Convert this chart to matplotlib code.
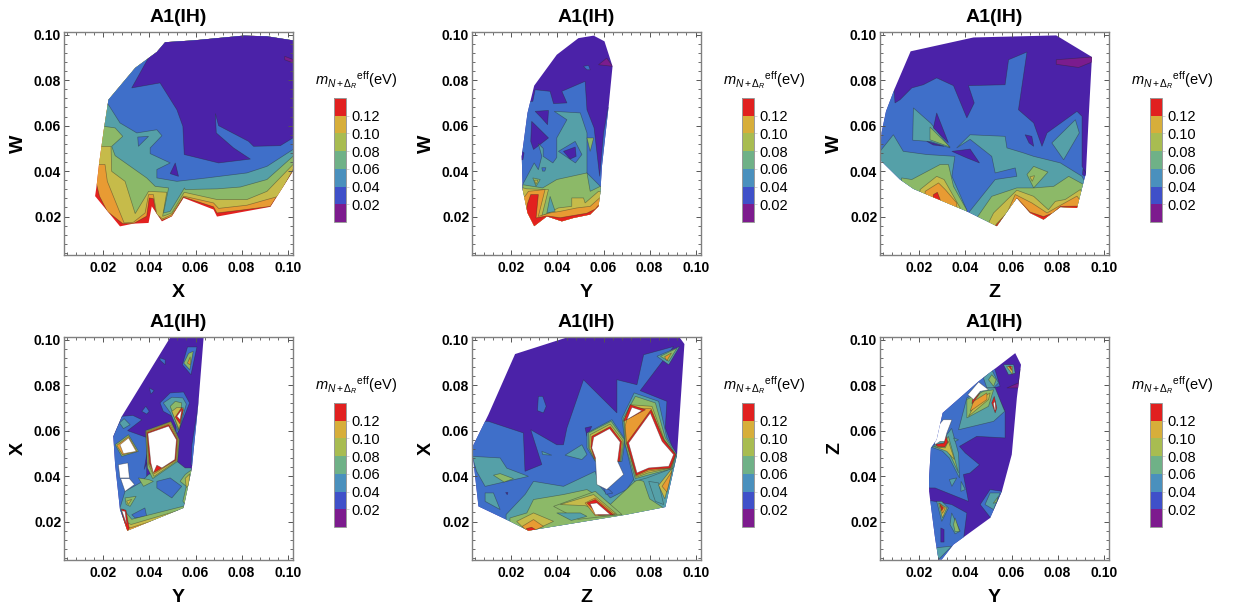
import matplotlib
matplotlib.use("Agg")
import matplotlib.pyplot as plt
from matplotlib.cm import ScalarMappable
from matplotlib.colors import BoundaryNorm, ListedColormap
from matplotlib.patches import Polygon
from matplotlib.ticker import FixedLocator

plt.rcParams["font.family"] = ["Liberation Sans", "DejaVu Sans"]
plt.rcParams["mathtext.fontset"] = "custom"
plt.rcParams["mathtext.rm"] = "Liberation Sans"
plt.rcParams["mathtext.it"] = "Liberation Sans:italic"
plt.rcParams["mathtext.bf"] = "Liberation Sans:bold"

# Band colours in the maps
P, V, B, T, G, Y, O, R, W = "#7B1C8E", "#4B22A8", "#3F6FC9", "#55A0A8", "#8CB968", "#C6BB4A", "#E89B33", "#E3211F", "#FFFFFF"

# Legend
cbar_levels = [0.0, 0.02, 0.04, 0.06, 0.08, 0.10, 0.12, 0.14]
cbar_colors = ["#7D1B8E", "#3F50C9", "#4A90BD", "#6FB187", "#A8BC51", "#D7AE3A", "#E1201F"]
cbar_ticks = [0.02, 0.04, 0.06, 0.08, 0.10, 0.12]
axis_ticks = [0.02, 0.04, 0.06, 0.08, 0.10]
minor_ticks = [0.004 * i for i in range(1, 26) if i % 5 != 0]

wx_hull = [(16.4, 29), (17.1, 34), (18.1, 43), (20.3, 59), (22.2, 71.4), (33.8, 85.4), (43.2, 92.4), (46.8, 96.7), (59.1, 97.5), (80.9, 99.6), (91, 99.3), (102.3, 97.5), (102.3, 40), (92.5, 24.3), (69.3, 20), (67.8, 23.1), (54.8, 28.2), (49.7, 20.1), (45.4, 17.9), (41, 24.5), (39.6, 17.2), (33, 16.9), (27.2, 15.7)]
wx_layers = [
    (O, [(0, 34), (17.1, 34), (18.3, 29), (21.7, 22.3), (28.4, 16.9), (33, 16.9), (38.8, 20.2), (39.9, 28.2), (41.7, 27.9), (42.8, 21.6), (45.4, 18.4), (49.7, 20.1), (54.8, 28.6), (67.8, 24.3), (69.3, 21.6), (79.4, 22.8), (92.5, 24.5), (102.3, 40), (120, 40), (120, 120), (0, 120)]),
    (Y, [(0, 43), (18.3, 42.9), (20.7, 42.9), (21.7, 35.5), (29, 17.2), (33, 17.5), (38.1, 21.6), (39.6, 29.7), (41.7, 29.7), (43.2, 20.9), (45.7, 19), (49.7, 20.9), (54.8, 29), (67.8, 26), (70, 23.6), (82.3, 25), (91, 27.5), (96, 28.9), (102.3, 40.7), (120, 40.7), (120, 120), (0, 120)]),
    (G, [(0, 50.9), (23.3, 50.9), (23.6, 39.9), (29.4, 35.5), (33.8, 21.3), (38.8, 29.7), (39.6, 31.1), (47.5, 30.7), (45.7, 20.1), (49.7, 21.6), (55.1, 30.7), (69.3, 27.5), (82.3, 27.5), (91, 31.1), (102.3, 42.9), (120, 42.9), (120, 120), (0, 120)]),
    (T, [(0, 59.7), (20.3, 59.7), (25.1, 59), (28.4, 55.3), (23.6, 50.9), (25.1, 46.8), (38.8, 37), (42.5, 33.3), (48.3, 32.6), (46.1, 21.6), (49, 22.3), (55.2, 32.6), (55.5, 31.9), (69.3, 32.2), (79.4, 33), (91, 36.3), (102.3, 46.5), (120, 46.5), (120, 120), (0, 120)]),
    (B, [(0, 69.2), (22.2, 69.2), (27.2, 61.2), (34.5, 56.8), (43.2, 58.2), (45.4, 55.6), (40.3, 50.2), (40.3, 47.7), (49, 43.6), (43.2, 40.7), (43.2, 37), (51.9, 35.5), (64.9, 37), (82.3, 39.2), (91, 42.1), (102.3, 49.5), (120, 49.5), (120, 120), (0, 120)]),
    (B, [(35.2, 50.9), (39.6, 55.3), (34.9, 55)]),
    (V, [(40.3, 120), (40.3, 91.2), (32.3, 76.6), (44.6, 78.8), (51.9, 67), (54.5, 59.7), (55.1, 47.3), (70, 43.6), (83.8, 45.3), (76.5, 50.2), (69, 56.8), (68.6, 65.3), (70, 60), (83, 53.1), (85.2, 50.9), (96.8, 51.2), (102.3, 54.6), (120, 54.6), (120, 120)]),
    (V, [(51.2, 43.6), (52.6, 37.7), (49, 38.9)]),
    (P, [(98.7, 90.5), (102.3, 89.1), (102.3, 87.6), (98.7, 89)]),
]

wy_hull = [(29.9, 15.8), (27, 21.6), (24.9, 31.9), (24.5, 46.5), (27, 65.6), (29.9, 77.6), (39.7, 91.2), (49.1, 98.5), (55.7, 99.6), (60.4, 97.1), (63.9, 86.1), (62.2, 68.5), (59.3, 42.1), (58.6, 30.4), (57.8, 24.5), (54.2, 20.9), (47, 19.4), (41.9, 17.9), (35.4, 20.1)]
wy_layers = [
    (B, [(29.3, 70.7), (30.3, 75.8), (36.8, 75.1), (38.3, 69.7), (44.1, 70), (41.9, 75.1), (52, 79.5), (52.8, 67), (55.9, 59), (58.3, 37.7), (60, 56.8), (62, 68), (70, 68), (70, 30), (20, 30), (20, 70.7)]),
    (V, [(30.3, 66.3), (36.1, 66.7), (35.7, 60.4), (33, 63.5)]),
    (V, [(28.8, 61.9), (36.1, 54.6), (29.6, 49.5), (28.4, 53.1)]),
    (V, [(24, 49), (25.5, 48), (25, 45), (24, 45)]),
    (B, [(51.3, 86.1), (53.5, 86.5), (54.2, 84.6), (52.8, 84.6)]),
    (P, [(57.8, 86.8), (61.4, 89.7), (63.9, 86.1)]),
    (T, [(24.9, 34.1), (29.9, 43.6), (31.7, 40.6), (33.2, 46.5), (31.7, 52.1), (33.8, 50), (33.8, 46.5), (38, 43.6), (39.7, 46), (39.7, 54.6), (44.1, 62.6), (38.6, 66.3), (49.9, 65.6), (52.8, 56.8), (52.8, 39.2), (58.6, 33.3), (60, 25), (24, 25)]),
    (B, [(40.4, 48.7), (47.7, 53.1), (50.6, 47.3), (47.8, 43.6)]),
    (V, [(42.6, 48.7), (47.7, 50.6), (48.1, 46.5), (45.5, 45.3)]),
    (G, [(52.8, 54.6), (55.7, 54.6), (54.2, 48.7)]),
    (B, [(33.2, 41.5), (35, 41.5), (34.5, 40), (33.5, 40)]),
    (G, [(25, 34), (33.6, 32.6), (39.7, 36.3), (52.8, 39.2), (54.2, 31.1), (58.6, 33.3), (60, 33), (60, 10), (24, 10)]),
    (G, [(29.3, 37), (32.5, 36.3), (30.7, 33.3)]),
    (Y, [(30, 36), (31.5, 36), (30.7, 34.2)]),
    (Y, [(24, 32.6), (25.2, 32.6), (26.7, 32.2), (36.1, 31.9), (33.2, 20.2), (40.4, 23.8), (46.2, 24.5), (46.2, 28.2), (51.3, 28.2), (52, 26), (57.8, 31.1), (60, 31), (60, 10), (24, 10)]),
    (T, [(36.8, 28.9), (39, 22.3), (35.4, 21.6)]),
    (O, [(24, 28.9), (25.9, 28.9), (27.4, 31.1), (34.6, 31.9), (31.7, 20.1), (36.8, 21.6), (41.2, 22.3), (48.4, 23.8), (54.2, 24.5), (58.3, 28.2), (60, 28), (60, 10), (24, 10)]),
    (R, [(27, 25.7), (28.4, 29.7), (31.7, 29.7), (30.7, 19.4), (35.4, 20.3), (41.2, 19.5), (47, 20.5), (52.8, 21.5), (56.4, 23.3), (57.8, 25), (60, 25), (60, 10), (24, 10)]),
]

wz_hull = [(2.9, 45), (3.6, 57), (5.5, 66.3), (9.4, 76.6), (16.2, 92.7), (43.5, 98.8), (79.4, 99.7), (94.9, 90.2), (93.5, 64.1), (92.3, 39.2), (90.6, 32.6), (88.4, 23.8), (81.2, 24.2), (73.9, 18.7), (68.1, 21.6), (62.3, 28.2), (53.6, 15.8), (40.6, 22.3), (17.4, 32.2), (11.6, 36.3)]
wz_layers = [
    (B, [(0, 76.6), (9, 76.6), (9.4, 70), (11.6, 71.4), (16.7, 76.6), (21.7, 78), (27.5, 81), (34.8, 77.6), (40.6, 63.4), (43.8, 70), (41.3, 77.6), (57.2, 78), (58.7, 89), (66.7, 92.4), (63, 67), (69.6, 61.2), (73.2, 50.9), (75.4, 56.8), (88.4, 66.3), (90.6, 64.1), (90.6, 42.1), (92.3, 39.2), (100, 30), (100, 10), (0, 10)]),
    (T, [(0, 45), (8.7, 56), (13, 48.7), (23.2, 47.3), (35.4, 46.5), (34.1, 37.7), (40.6, 22.8), (41, 10), (0, 10)]),
    (T, [(36.2, 50.2), (42, 56), (57.2, 55.3), (58, 50.2), (65.2, 48), (69.6, 46.5), (81.2, 43.6), (90.6, 37.7), (92.7, 33.3), (91.3, 12.8), (41.3, 12.8), (41.3, 21.6), (52.9, 36.3), (62.3, 37.7), (61.6, 41.4), (52.9, 39.2), (51.4, 46.5), (42, 54)]),
    (T, [(17.4, 67.8), (25, 61), (33.3, 50.2), (25, 53), (17.1, 53.6)]),
    (G, [(24.6, 59.4), (33.3, 50.6), (24.6, 53.8)]),
    (V, [(27.5, 65.6), (32.6, 52.4), (26.1, 59)]),
    (V, [(23.2, 53.1), (30.7, 50.9), (26, 51.5)]),
    (V, [(34.1, 48.7), (42, 49.7), (46.1, 43.6), (40.6, 45.8)]),
    (V, [(65.9, 56), (68.8, 55.3), (69.6, 50.9), (67.6, 52.4)]),
    (V, [(91, 41), (92.3, 39.2), (92.3, 37.5), (90.8, 38.5)]),
    (T, [(77.5, 52.4), (87.7, 62.6), (89.4, 56.8), (82.6, 45)]),
    (G, [(66.7, 38.5), (69.6, 42.1), (75.8, 39.6), (69.6, 32.6)]),
    (Y, [(68, 37.5), (70, 38), (69, 35.5)]),
    (P, [(79.4, 89), (94.9, 90.2), (94.9, 88), (89.1, 85.6), (79.4, 87)]),
    (G, [(12.3, 37), (16.7, 36.3), (29, 42.9), (32.6, 42.9), (34.8, 33.3), (40.6, 22.8), (40.6, 10), (10, 10)]),
    (Y, [(20.3, 31.9), (27.5, 37.7), (30.7, 36.3), (37.7, 23.8), (37.7, 10), (20.3, 10)]),
    (O, [(22.5, 31.1), (28.3, 34.8), (31.2, 31.9), (36.2, 26), (36.2, 10), (22.5, 10)]),
    (R, [(26.1, 29.7), (27.8, 30.7), (29, 27.5), (28, 20), (25, 20)]),
    (G, [(44.9, 19.4), (51.4, 28.9), (62.3, 32.6), (69.6, 32.6), (78.3, 33.3), (84.8, 37.7), (91.3, 34.1), (100, 30), (100, 10), (45, 10)]),
    (Y, [(50, 17.2), (52.2, 21.6), (62.3, 31.6), (69.6, 28.9), (76, 23), (79, 26.7), (83.3, 27.5), (89.9, 31.9), (91.3, 29), (100, 28), (100, 10), (50, 10)]),
    (O, [(53.2, 16.5), (58, 21.6), (61.6, 29.7), (68.8, 26), (75.4, 21.6), (80.4, 24.5), (88.4, 29), (89.5, 27.5), (100, 24), (100, 10), (53, 10)]),
    (R, [(53, 15.8), (60, 23.8), (62.3, 28.2), (68, 22), (73.9, 20), (78, 21.6), (81.2, 24.5), (88.4, 24.6), (100, 24), (100, 10), (53, 10)]),
]

xy_hull = [(30.4, 16), (27.2, 25.3), (25.1, 45), (24.3, 57.5), (28, 66.3), (49, 101), (63.5, 101), (61.3, 72.9), (58.4, 43.6), (54.8, 26)]
xy_layers = [
    (B, [(24, 57), (28, 66.3), (32.8, 66.7), (36.7, 64.8), (30.5, 60), (38.8, 57), (38.8, 40), (45, 28), (60, 22), (40, 10), (20, 10)]),
    (B, [(58.1, 45), (58.4, 53.8), (61.7, 74.3), (64, 74), (64, 40)]),
    (V, [(37.7, 42.9), (38.8, 49.5), (39.1, 46.5)]),
    (T, [(29.4, 33.3), (35.9, 37), (39.6, 40.7), (51.9, 46.5), (55.5, 43.6), (58.1, 43.6), (58.4, 42), (54.8, 26), (47.5, 23.1), (30.1, 17), (27.2, 26)]),
    (B, [(43.2, 37.7), (49, 39.2), (54, 35.5), (49.7, 30.4), (43.2, 34.8)]),
    (B, [(32.3, 23), (38, 26), (38.8, 22.3), (33.8, 21.6)]),
    (G, [(53.3, 37.7), (55.5, 40.7), (58.4, 42.9), (58.4, 42), (55.5, 27.5), (54.5, 29), (56, 35.5)]),
    (Y, [(55.5, 39), (57.5, 41), (57, 36), (56, 35)]),
    (G, [(35.2, 39.2), (39.6, 38.5), (41.7, 37.7), (37.4, 35.5)]),
    (G, [(29.4, 30.4), (34.2, 31.1), (31.6, 26.7), (29.9, 27.5)]),
    (Y, [(30.1, 29), (32.3, 29.8), (30.8, 27.5)]),
    (G, [(28.7, 25.3), (32.3, 21), (54.5, 26.7), (57, 27.5), (57, 10), (28, 10)]),
    (Y, [(29.5, 20), (32, 18.7), (55, 25.6), (55, 10), (28, 10)]),
    (O, [(30, 18), (31.5, 17.2), (50, 23), (50, 10), (29, 10)]),
    (R, [(27.8, 25.6), (29.8, 25), (31.2, 17), (30, 15)]),
    (W, [(28, 24.8), (29.4, 24.5), (30.1, 18.7)]),
    (T, [(27, 63.4), (29, 65.3), (31.6, 62.6), (28.7, 60.9)]),
    (B, [(44.6, 92), (46.8, 91.2), (46.8, 89), (44.6, 91)]),
    (B, [(54.3, 89), (56.5, 96.8), (60.6, 96.8), (58, 84.6)]),
    (G, [(54.9, 89.7), (57, 94), (59, 94.9), (57.5, 86.8)]),
    (O, [(56.5, 89.7), (57.7, 92.5), (57.7, 89)]),
    (B, [(40, 78.8), (42, 77.6), (40.6, 76.1)]),
    (B, [(36.7, 68.5), (38.4, 70.7), (39.9, 68.5), (38.8, 67.3)]),
    (B, [(44.6, 72.2), (49, 76.6), (54.8, 77), (57.4, 72.2), (52.3, 59), (51.6, 59), (51.2, 65.6), (46, 68.5)]),
    (T, [(46, 72.2), (49.7, 74.7), (54.5, 74.4), (56, 71.7), (52.6, 59.5), (49, 68)]),
    (G, [(49, 70.7), (51.2, 72.9), (54, 72.2), (52.6, 60.4), (50.4, 67)]),
    (Y, [(49.7, 68.5), (51.9, 70.2), (54.8, 70), (52.9, 60.5)]),
    (R, [(51.2, 66), (54, 70.2), (54.6, 69), (53.2, 63)]),
    (W, [(51.9, 66.3), (54, 69.2), (53.3, 64.8)]),
    (G, [(38.3, 60), (49.3, 64.1), (53, 56), (52.2, 46.5), (41.4, 38.9), (39.1, 43.6)]),
    (Y, [(38.6, 59.7), (49, 63.7), (52.6, 56), (51.9, 46.8), (42, 39.9), (39.6, 45.1)]),
    (O, [(38.8, 59.4), (48.7, 63.1), (52.3, 56), (51.6, 47.1), (42, 41), (39.9, 45.5)]),
    (R, [(39, 59.1), (48.4, 62.6), (52, 56), (51.3, 47.1), (42.2, 41.7), (40.1, 45.6)]),
    (W, [(39.3, 58.8), (48.3, 62), (51.7, 56), (51, 47.3), (45.4, 43.6), (43.2, 44.8), (41.7, 41.4), (40.6, 45.8)]),
    (G, [(25.1, 53.8), (30.9, 58.2), (35.2, 50.9), (28, 48.7)]),
    (O, [(25.8, 53.5), (30.9, 57.4), (34.6, 50.9), (28.3, 49.4)]),
    (W, [(27.2, 53.8), (30.9, 56.8), (34.2, 50.9), (28.7, 49.9)]),
    (W, [(26.5, 45), (30.6, 45.8), (31.3, 39.2), (27.2, 39.2)]),
    (W, [(27.5, 38.9), (31.3, 38.9), (33.5, 36.3), (29.4, 33.3)]),
]

xz_hull = [(5.7, 26.7), (2.9, 52.4), (10, 67), (21.6, 93.7), (44.1, 101), (93, 101), (95.1, 98.1), (91.9, 49.5), (86.8, 26.4), (70.1, 23.1), (27.4, 16), (19.4, 20.1)]
xz_layers = [
    (B, [(0, 64.1), (10, 64.1), (25.2, 59), (25.9, 42.1), (33.2, 45.1), (28.4, 60.4), (39.7, 53.8), (42.6, 53.8), (44.1, 61.2), (51.3, 82.4), (65.8, 67.8), (65.8, 82.4), (74.5, 80.2), (77.4, 93.4), (90.4, 97), (75.9, 77.6), (87.5, 72.9), (86.8, 61.2), (91, 49.5), (95, 45), (95, 15), (0, 15)]),
    (B, [(31.7, 75.1), (33.6, 75.1), (35.1, 70.7), (33.9, 67.8), (31.3, 68.8)]),
    (V, [(52, 61.2), (54.9, 61.9), (52.8, 57.5)]),
    (V, [(17.5, 32.8), (18.5, 32.8), (18.2, 31.8)]),
    (T, [(3, 48.7), (15.1, 48), (18, 43.5), (27.4, 39.9), (8.6, 35.5), (4.9, 42.1)]),
    (G, [(12.2, 40.4), (15.1, 41.1), (20.9, 38.9), (16.8, 37.4)]),
    (T, [(43.3, 49.2), (50.6, 53.8), (52.8, 49.5), (50.6, 47.3)]),
    (T, [(33.2, 50.9), (37.5, 49.2), (33.6, 49.5)]),
    (T, [(8.6, 32.6), (12.2, 32.6), (15.1, 25.3), (8.6, 28.9)]),
    (T, [(17.7, 23.1), (26, 32), (29.6, 37.7), (42.6, 35.5), (56.4, 42.1), (57.8, 36.3), (62.9, 30.4), (70.1, 34.1), (74.5, 40.7), (89, 45.8), (91, 49.5), (95, 45), (95, 10), (17.7, 10)]),
    (B, [(60, 35), (62.5, 34), (64, 32.5), (61, 32)]),
    (G, [(19.4, 21.6), (26.7, 23.8), (29.6, 29.7), (42.6, 31.9), (52.8, 34.1), (62.9, 27.5), (74.5, 38.5), (77.4, 37.7), (80, 30), (86, 26), (90, 10), (19, 10)]),
    (T, [(79.6, 37.7), (83.9, 37), (86.1, 27.5), (82.5, 28.9)]),
    (Y, [(83.9, 36), (89.9, 43.6), (86.6, 30)]),
    (O, [(85.4, 35.5), (89.7, 42.1), (87.5, 33)]),
    (G, [(38.3, 26.7), (56.4, 33.3), (68, 23.1), (49, 21)]),
    (T, [(39.7, 23.8), (49.9, 23.8), (52.8, 22.3), (46, 20.5)]),
    (Y, [(41.2, 27.5), (55.7, 31.9), (65.9, 23.1), (52, 27)]),
    (O, [(52, 28.2), (56.4, 30.4), (65, 23.1), (56.5, 22.5)]),
    (R, [(52.8, 28.2), (56.4, 29.7), (64.3, 23), (57.9, 22.8)]),
    (W, [(54.2, 27.8), (57.1, 28.2), (62.9, 23.1), (56.4, 23.1)]),
    (Y, [(22.3, 20.1), (29.6, 23.8), (38.3, 20.1), (27.4, 15)]),
    (O, [(24.7, 17.9), (29.6, 20.9), (33.9, 17.9), (27.4, 15)]),
    (R, [(26.4, 16.9), (28.8, 17.5), (30.5, 16.5), (27.4, 15)]),
    (T, [(52.8, 59), (63.6, 64.8), (69.4, 56), (68, 46.5), (56.4, 46.5), (52.8, 52.4)]),
    (G, [(53.5, 59), (63.3, 64.1), (69, 56), (67.5, 46.5), (56.4, 46.8), (53.5, 52.4)]),
    (Y, [(54.2, 58.2), (62.9, 62.9), (68.4, 55.6), (67.2, 46.5), (56.1, 47.3), (53.9, 52.4)]),
    (R, [(54.9, 57.5), (62.9, 61.8), (67.8, 55.3), (67, 46.5), (56.1, 47.7), (54.5, 52.7)]),
    (W, [(55.7, 57.1), (62.6, 60.9), (67.2, 55), (66.1, 46.5), (68.7, 40.7), (61.4, 34.1), (57.1, 36.3), (56.5, 48), (54.9, 52.4)]),
    (T, [(68, 65.6), (73.3, 76.6), (83.9, 72.9), (87.5, 56.8), (91.9, 49.5), (90.4, 43.6), (78.8, 39.2), (73.3, 37.7), (69.4, 53.8)]),
    (G, [(68.7, 65.6), (73.8, 75.1), (82.5, 72.2), (86.8, 56.8), (91.4, 49.5), (89.7, 43.3), (79.1, 40.4), (73.8, 38.9), (69.4, 54.1)]),
    (Y, [(69, 64.8), (71.6, 71.4), (81, 70.7), (86.4, 56), (91.3, 49.5), (89.4, 43.6), (79.3, 41.4), (74.1, 39.5), (69.9, 54.6)]),
    (O, [(69.4, 61.9), (71.2, 70), (80.6, 69.7), (86.2, 56), (91.2, 49.5), (89.2, 43.6), (79.4, 42.2), (74.2, 40), (70, 54.6)]),
    (R, [(70.1, 54.6), (80.6, 69.2), (86.1, 56), (91.2, 49.5), (89, 43.6), (79.6, 42.9), (74.2, 40.4)]),
    (W, [(70.9, 54.6), (80.3, 67.8), (85.4, 55.3), (90.4, 49.5), (88.3, 44.3), (79.6, 43.6), (74.5, 41.4)]),
    (R, [(68.7, 64.1), (71.6, 71.4), (78.2, 69.2)]),
    (W, [(70.1, 64.8), (72.3, 70.3), (76.7, 68.8)]),
    (T, [(83.2, 92.7), (93, 97), (88.3, 89)]),
    (G, [(84.7, 92.7), (91.9, 96.3), (88.3, 90.5)]),
    (O, [(86.5, 92.5), (89.5, 94.2), (87.5, 90.8)]),
]

zy_hull = [(28.3, 3.3), (26.8, 12.8), (24.2, 33.3), (24.2, 39.2), (25, 52.4), (27.5, 56), (30.1, 67.8), (45.7, 81.7), (61.6, 94.1), (64.1, 89), (62.3, 74.4), (60.1, 49.5), (55.8, 33.3), (50.7, 21.6), (34.8, 9.9), (29.7, 3.3)]
zy_layers = [
    (B, [(30, 72), (45.7, 84), (52.2, 89), (55, 79.5), (52.2, 78.8), (57.2, 68.5), (57.2, 56.8), (44.9, 57.5), (37.4, 53.1), (39.9, 50.2), (46.1, 45), (42, 41.4), (39.1, 40.7), (41.3, 28.9), (26.8, 34.8), (20, 34.8), (20, 72)]),
    (B, [(20, 30), (26, 29), (34, 27.5), (40.6, 23.8), (39, 11), (30, 3), (20, 3)]),
    (B, [(46.4, 27.5), (50.7, 34.1), (55.8, 33.3), (51, 21.5)]),
    (V, [(29.3, 17.2), (30.7, 16.5), (30.7, 11), (29.3, 11)]),
    (T, [(48.5, 27.5), (50.7, 32.6), (55, 32.6), (52.2, 25.3)]),
    (G, [(52, 28), (54.2, 31), (53.5, 28.5)]),
    (T, [(47.8, 83.2), (51.4, 86.8), (54.3, 81), (52.2, 78.8), (49.3, 78.8)]),
    (G, [(50, 82.4), (51.4, 84.6), (53.3, 82.4), (52.2, 79.5)]),
    (T, [(56.5, 89), (60.9, 89), (61.6, 85.3), (58.7, 84.6)]),
    (Y, [(57.5, 88.5), (60.2, 88.5), (60.2, 85)]),
    (R, [(58.7, 88.4), (59.7, 88.4), (60.1, 86.5)]),
    (P, [(58, 78.8), (63, 81), (63.8, 87), (63, 78.8)]),
    (T, [(37, 60.4), (52.2, 64.1), (57, 68.5), (52.9, 78.8), (49.3, 78.8), (40.6, 74.4)]),
    (G, [(40.6, 65.6), (50, 70.7), (52.2, 78), (47.8, 77.3), (40.6, 73.7)]),
    (Y, [(41.3, 66.3), (50, 73.7), (50.7, 76.6), (45, 73)]),
    (O, [(42, 68.5), (49.3, 73.7), (49.3, 76.6), (43.5, 72.9)]),
    (R, [(42.8, 71.7), (46.4, 76.6), (43, 73.5)]),
    (W, [(41, 75.8), (45.7, 81.4), (50, 78), (46.4, 77.3), (43.5, 73.7)]),
    (R, [(51.4, 72.2), (52.5, 75.1), (53.6, 70), (52.9, 67.8)]),
    (W, [(52.1, 72), (52.8, 72.9), (53.1, 69.3), (52.7, 69)]),
    (T, [(25.4, 52.7), (28, 55), (31, 57), (34, 61), (37, 50), (37.4, 39.2), (33, 48), (30, 51)]),
    (G, [(26.1, 53), (30.7, 54.6), (32.6, 57.5), (37, 41.4), (32.6, 50.9), (29.7, 52.4)]),
    (Y, [(26.8, 52.9), (31.2, 52.4), (32.6, 55.3), (35.2, 47.3), (31.9, 50.9)]),
    (R, [(27, 54), (30.7, 54.5), (31.5, 58), (32.3, 55), (31, 52.8), (28, 53)]),
    (W, [(26.8, 53.8), (29, 55.3), (30.9, 55.3), (31.9, 59), (34.1, 64.8), (30.4, 64.8), (26.1, 59.7)]),
    (T, [(33, 38.5), (36.2, 39.2), (34.1, 35.5)]),
    (T, [(38.1, 37.7), (39.9, 34.1), (38, 33.3)]),
    (T, [(34.8, 56.8), (37, 56), (35.5, 55.3)]),
    (T, [(27.5, 28.9), (29.7, 28.9), (32.6, 26), (29.7, 20.1)]),
    (Y, [(28.3, 28.2), (31.9, 26), (30, 21.6)]),
    (O, [(28.7, 28.2), (31.2, 25.7), (30, 23.6)]),
    (R, [(29, 27.5), (30.4, 26), (29.7, 24.8)]),
    (T, [(34, 23.8), (37.7, 15.8), (35.5, 14.6), (33.3, 18.7)]),
    (G, [(35.5, 21.6), (37.4, 15.8), (35.5, 15.5), (34.8, 18.7)]),
    (T, [(26.8, 8.4), (34, 9.2), (28.3, 3.3)]),
]

# panel: hull, layers, x label, y label, left edge px, top edge px
panel_hulls = [wx_hull, wy_hull, wz_hull, xy_hull, xz_hull, zy_hull]
panel_layers = [wx_layers, wy_layers, wz_layers, xy_layers, xz_layers, zy_layers]
panel_xlabels = ["X", "Y", "Z", "Y", "Z", "Y"]
panel_ylabels = ["W", "W", "W", "X", "X", "Z"]
panel_left = [64, 472, 880, 64, 472, 880]
panel_top = [32, 32, 32, 337, 337, 337]

W_PX, H_PX = 1234, 608
fig = plt.figure(figsize=(W_PX / 100, H_PX / 100), dpi=100)
EDGE = (0.15, 0.15, 0.15, 0.45)


def to_data(pts):
    return [(px / 1000, py / 1000) for px, py in pts]


def draw_panel(i):
    left, top = panel_left[i], panel_top[i]
    ax = fig.add_axes([left / W_PX, 1 - (top + 223) / H_PX, 229 / W_PX, 223 / H_PX])
    ax.set_xlim(0.0029, 0.1023)
    ax.set_ylim(0.0031, 0.1012)

    hull = Polygon(to_data(panel_hulls[i]), closed=True, facecolor=R if i == 0 else V, edgecolor="none")
    ax.add_patch(hull)
    for color, pts in panel_layers[i]:
        patch = Polygon(to_data(pts), closed=True, facecolor=color, edgecolor=EDGE, linewidth=0.5)
        ax.add_patch(patch)
        patch.set_clip_path(hull)

    ax.set_title("A1(IH)", fontsize=14, fontweight="bold", pad=7.5)
    ax.set_xlabel(panel_xlabels[i], fontsize=14, fontweight="bold", labelpad=6)
    ax.set_ylabel(panel_ylabels[i], fontsize=14, fontweight="bold", labelpad=5)
    ax.set_xticks(axis_ticks)
    ax.set_yticks(axis_ticks)
    ax.set_xticklabels(["%.2f" % t for t in axis_ticks], fontsize=10, fontweight="bold")
    ax.set_yticklabels(["%.2f" % t for t in axis_ticks], fontsize=10, fontweight="bold")
    ax.xaxis.set_minor_locator(FixedLocator(minor_ticks))
    ax.yaxis.set_minor_locator(FixedLocator(minor_ticks))
    ax.tick_params(which="major", direction="in", top=True, right=True, length=3.5, width=0.7, color="#555555")
    ax.tick_params(which="minor", direction="in", top=True, right=True, length=2, width=0.6, color="#555555")
    ax.tick_params(axis="x", which="major", pad=4.5)
    ax.tick_params(axis="y", which="major", pad=2)
    for s in ax.spines.values():
        s.set_color("#808080")
        s.set_linewidth(1.0)

    # legend beside the panel
    cax = fig.add_axes([(left + 270) / W_PX, 1 - (top + 190) / H_PX, 12 / W_PX, 124 / H_PX])
    sm = ScalarMappable(norm=BoundaryNorm(cbar_levels, len(cbar_colors)), cmap=ListedColormap(cbar_colors))
    cb = fig.colorbar(sm, cax=cax, ticks=cbar_ticks, spacing="proportional", drawedges=False)
    cb.ax.minorticks_off()
    cb.ax.set_yticklabels(["%.2f" % t for t in cbar_ticks], fontsize=10.5)
    cb.ax.tick_params(which="both", length=2, width=0.6, color="#CCCCCC", pad=2, direction="out")
    cb.outline.set_edgecolor("#999999")
    cb.outline.set_linewidth(0.7)
    fig.text((left + 292) / W_PX, 1 - (top + 48) / H_PX, r"$m_{N+\Delta_R}{}^{\mathrm{eff}}$(eV)",
             fontsize=10.5, ha="center", va="center")


for i in range(6):
    draw_panel(i)

fig.savefig("out.png", dpi=100)
